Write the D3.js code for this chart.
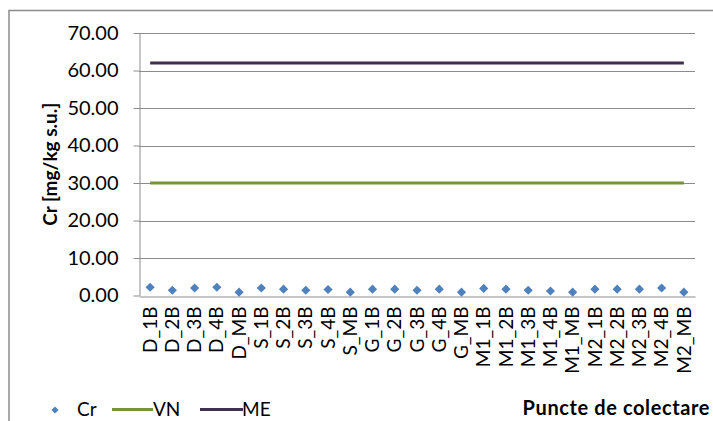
<!DOCTYPE html>
<html>
<head>
<meta charset="utf-8">
<script src="https://cdn.jsdelivr.net/npm/d3@7"></script>
<style>
  html, body { margin: 0; padding: 0; background: #fff; }
  svg { display: block; }
  text { font-family: Lato, "Liberation Sans", Arial, sans-serif; fill: #000; }
</style>
</head>
<body>
<svg id="chart" width="713" height="421"></svg>
<script>
// Sampling points
const categories = ["D_1B","D_2B","D_3B","D_4B","D_MB","S_1B","S_2B","S_3B","S_4B","S_MB",
  "G_1B","G_2B","G_3B","G_4B","G_MB","M1_1B","M1_2B","M1_3B","M1_4B","M1_MB",
  "M2_1B","M2_2B","M2_3B","M2_4B","M2_MB"];
// Measured chromium content [mg/kg s.u.]
const crValues = [2.2, 1.4, 2.0, 2.2, 0.9, 2.0, 1.7, 1.4, 1.6, 0.9,
  1.7, 1.7, 1.4, 1.7, 0.9, 1.9, 1.7, 1.4, 1.2, 0.9,
  1.7, 1.7, 1.7, 2.0, 0.9];
// Reference levels
const vnValue = 30;
const meValue = 62;
const yTicks = [0, 10, 20, 30, 40, 50, 60, 70];

const FONT = "Lato, 'Liberation Sans', Arial, sans-serif";
const svg = d3.select("#chart");
const plotLeft = 139, plotRight = 695, plotTop = 33, plotBottom = 295.5;

// outer chart frame
svg.append("rect")
  .attr("x", 9).attr("y", 10.5)
  .attr("width", 720).attr("height", 430)
  .attr("fill", "none").attr("stroke", "#8c8c8c").attr("stroke-width", 1.5);

const x = d3.scaleBand().domain(categories).range([plotLeft, plotRight]);
const y = d3.scaleLinear().domain([0, 70]).range([plotBottom, plotTop]);

// horizontal gridlines
svg.append("g")
  .selectAll("line").data(yTicks.filter(t => t > 0)).join("line")
  .attr("x1", plotLeft).attr("x2", plotRight)
  .attr("y1", d => Math.round(y(d)) + 0.5).attr("y2", d => Math.round(y(d)) + 0.5)
  .attr("stroke", "#8c8c8c").attr("stroke-width", 1);

// y axis
const yAxis = svg.append("g")
  .attr("transform", `translate(${plotLeft + 0.5},0)`)
  .call(d3.axisLeft(y).tickValues(yTicks).tickFormat(d3.format(".2f")).tickSize(6).tickSizeOuter(0));
yAxis.select(".domain").attr("stroke", "#8c8c8c");
yAxis.selectAll(".tick line").attr("stroke", "#8c8c8c");
yAxis.selectAll(".tick text")
  .attr("x", -21)
  .style("font-family", FONT)
  .style("font-size", "20px").attr("fill", "#111");

// x axis
const xAxis = svg.append("g")
  .attr("transform", `translate(0,${Math.round(plotBottom) + 0.5})`)
  .call(d3.axisBottom(x).tickSize(0).tickSizeOuter(0));
xAxis.select(".domain").attr("stroke", "#8c8c8c");
xAxis.selectAll(".tick text")
  .attr("transform", "rotate(-90)")
  .attr("x", -10).attr("y", 0).attr("dy", "0.35em")
  .attr("text-anchor", "end")
  .style("font-family", FONT)
  .style("font-size", "19px").attr("fill", "#111");

// reference lines
const first = x(categories[0]) + x.bandwidth() / 2;
const last = x(categories[categories.length - 1]) + x.bandwidth() / 2;
const refLine = d3.line().x(d => d[0]).y(d => y(d[1]));
svg.append("path")
  .attr("d", refLine([[first, vnValue], [last, vnValue]]))
  .attr("stroke", "#76933c").attr("stroke-width", 3).attr("fill", "none");
svg.append("path")
  .attr("d", refLine([[first, meValue], [last, meValue]]))
  .attr("stroke", "#403151").attr("stroke-width", 3).attr("fill", "none");

// Cr markers (diamonds)
const diamond = d3.symbol().type(d3.symbolSquare).size(42);
svg.append("g").selectAll("path").data(crValues).join("path")
  .attr("d", diamond)
  .attr("transform", (d, i) => `translate(${x(categories[i]) + x.bandwidth() / 2},${y(d)}) rotate(45)`)
  .attr("fill", "#4f81bd");

// y axis title
svg.append("text")
  .attr("transform", `translate(57,${(plotTop + plotBottom) / 2}) rotate(-90)`)
  .attr("text-anchor", "middle")
  .style("font-size", "19px").style("font-weight", "bold")
  .text("Cr [mg/kg s.u.]");

// legend
const lg = svg.append("g");
lg.append("path").attr("d", d3.symbol().type(d3.symbolSquare).size(26))
  .attr("transform", "translate(55,410) rotate(45)").attr("fill", "#4f81bd");
lg.append("text").attr("x", 77).attr("y", 416).style("font-size", "19px").attr("fill", "#111").text("Cr");
lg.append("line").attr("x1", 112).attr("x2", 153).attr("y1", 409.5).attr("y2", 409.5)
  .attr("stroke", "#76933c").attr("stroke-width", 3);
lg.append("text").attr("x", 153).attr("y", 416).style("font-size", "19px").attr("fill", "#111").text("VN");
lg.append("line").attr("x1", 200).attr("x2", 243).attr("y1", 409.5).attr("y2", 409.5)
  .attr("stroke", "#403151").attr("stroke-width", 3);
lg.append("text").attr("x", 242).attr("y", 416).style("font-size", "19px").attr("fill", "#111").text("ME");

// x axis title
svg.append("text")
  .attr("x", 710).attr("y", 415).attr("text-anchor", "end")
  .style("font-size", "20px").style("font-weight", "bold")
  .style("letter-spacing", "0.6px")
  .text("Puncte de colectare");
</script>
</body>
</html>
